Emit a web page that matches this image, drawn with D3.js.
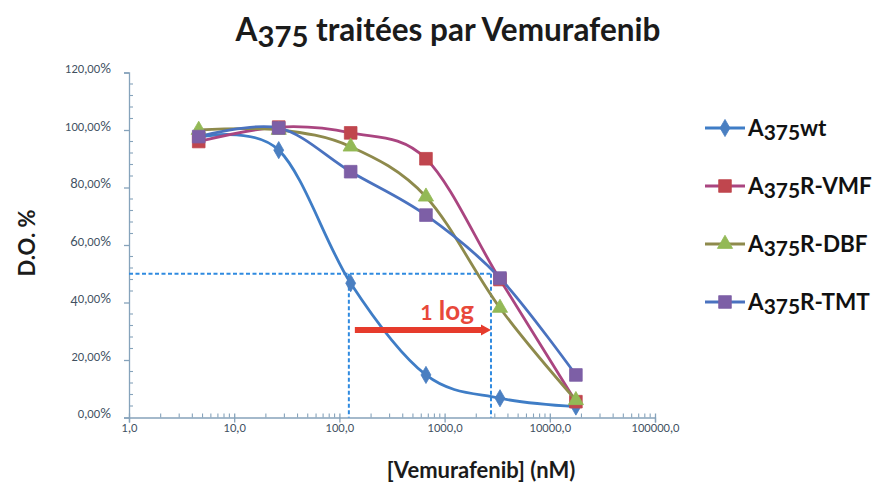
<!DOCTYPE html>
<html>
<head>
<meta charset="utf-8">
<script src="https://cdn.jsdelivr.net/npm/d3@7"></script>
<style>
  html, body { margin: 0; padding: 0; background: #fff; }
  svg { display: block; }
  text { font-family: Lato, "Open Sans", sans-serif; }
</style>
</head>
<body>
<svg id="chart" width="880" height="490"></svg>
<script>
// Vemurafenib concentrations (nM) used for the dose–response
const concentrations = [4.6, 26.5, 128, 665, 3360, 17700];

// Optical density (fraction of untreated control) per cell line
const seriesNames = ["A375wt", "A375R-VMF", "A375R-DBF", "A375R-TMT"];
const wtValues  = [0.975, 0.93, 0.467, 0.148, 0.067, 0.038];
const vmfValues = [0.96, 1.01, 0.99, 0.90, 0.48, 0.055];
const dbfValues = [1.00, 1.00, 0.942, 0.768, 0.381, 0.06];
const tmtValues = [0.977, 1.007, 0.855, 0.704, 0.485, 0.148];

// Axis ticks
const yTicks = [0, 0.2, 0.4, 0.6, 0.8, 1.0, 1.2];
const xTicks = [1, 10, 100, 1000, 10000, 100000];

// IC50 guides: half-effect level and the two crossing concentrations
const halfLevel = 0.5;
const ic50Sensitive = 123;
const ic50Resistant = 2760;

const series = [
  { name: seriesNames[0], values: wtValues,  line: "#3f7dc6", fill: "#4a7fc1", marker: "diamond" },
  { name: seriesNames[1], values: vmfValues, line: "#aa4580", fill: "#c0464e", marker: "square" },
  { name: seriesNames[2], values: dbfValues, line: "#8e8a4c", fill: "#93b956", marker: "triangle" },
  { name: seriesNames[3], values: tmtValues, line: "#4a72bf", fill: "#7d5fa6", marker: "square" }
];

const svg = d3.select("#chart");
const x = d3.scaleLog().domain([1, 100000]).range([129, 655]);
const y = d3.scaleLinear().domain([0, 1.2]).range([417.5, 72.5]);

const axisColor = "#86a3bb";
const labelColor = "#40505f";
const frFixed = v => v.toFixed(1).replace(".", ",");
const frPct = v => (v * 100).toFixed(2).replace(".", ",") + "%";

// Text-style figures: x-height digits, with 3 4 5 7 9 hanging below the baseline
function oldStyleText(sel, size) {
  sel.each(function () {
    const t = d3.select(this);
    const str = t.text();
    t.text(null);
    const runs = str.match(/\d|\D+/g) || [];
    let shift = 0;
    runs.forEach(run => {
      const ts = t.append("tspan");
      if (/\d/.test(run)) {
        let fs = size * 0.82, sh = 0;
        if ("34579".includes(run)) { fs = size * 0.93; sh = size * 0.19; }
        else if ("68".includes(run)) { fs = size * 0.96; }
        ts.attr("font-size", fs).attr("dy", sh - shift).text(run);
        shift = sh;
      } else {
        ts.attr("font-size", size).attr("dy", -shift).text(run);
        shift = 0;
      }
    });
  });
}

// Title
svg.append("text")
  .attr("x", 448).attr("y", 41)
  .attr("text-anchor", "middle")
  .attr("font-weight", 700)
  .attr("fill", "#1b1b1b")
  .text("A375 traitées par Vemurafenib")
  .call(oldStyleText, 31.5);

// Y axis: major ticks outside, minor ticks inside
const yAxis = d3.axisLeft(y).tickValues(yTicks).tickFormat(frPct).tickSize(5).tickPadding(13);
const gy = svg.append("g").attr("transform", `translate(${x(1)},0)`).call(yAxis);
gy.select(".domain").attr("stroke", axisColor).attr("stroke-width", 1.3);
gy.selectAll(".tick line").attr("stroke", axisColor).attr("stroke-width", 1.3);
gy.selectAll(".tick text").attr("fill", labelColor).attr("font-family", "Lato, sans-serif")
  .call(oldStyleText, 13.5);
const yMinor = d3.range(0, 1.2001, 0.04).filter(v => !yTicks.some(t => Math.abs(t - v) < 1e-6));
svg.append("g").selectAll("line").data(yMinor).join("line")
  .attr("x1", x(1)).attr("x2", x(1) + 4)
  .attr("y1", d => y(d)).attr("y2", d => y(d))
  .attr("stroke", axisColor).attr("stroke-width", 1.1);

// X axis (log): major ticks crossing, minor ticks inside
const xAxis = d3.axisBottom(x).tickValues(xTicks).tickFormat(frFixed).tickSize(5).tickPadding(9);
const gx = svg.append("g").attr("transform", `translate(0,${y(0)})`).call(xAxis);
gx.select(".domain").attr("stroke", axisColor).attr("stroke-width", 1.3);
gx.selectAll(".tick line").attr("stroke", axisColor).attr("stroke-width", 1.3).attr("y1", -4);
gx.selectAll(".tick text").attr("fill", labelColor).call(oldStyleText, 13.5);
const xMinor = [];
for (let d = 1; d < 100000; d *= 10) for (let k = 2; k <= 9; k++) xMinor.push(d * k);
svg.append("g").selectAll("line").data(xMinor).join("line")
  .attr("x1", d => x(d)).attr("x2", d => x(d))
  .attr("y1", y(0)).attr("y2", y(0) - 4)
  .attr("stroke", axisColor).attr("stroke-width", 1.1);

// Axis titles
svg.append("text")
  .attr("transform", `translate(35,243) rotate(-90)`)
  .attr("text-anchor", "middle")
  .attr("font-size", 22).attr("font-weight", 700).attr("fill", "#1b1b1b")
  .text("D.O. %");
svg.append("text")
  .attr("x", 481).attr("y", 478)
  .attr("text-anchor", "middle")
  .attr("font-size", 22).attr("font-weight", 700).attr("fill", "#1b1b1b")
  .text("[Vemurafenib] (nM)");

// IC50 guide lines
const guide = svg.append("g").attr("stroke", "#2f8ae0").attr("stroke-width", 2)
  .attr("stroke-dasharray", "4,2.5").attr("fill", "none");
guide.append("line").attr("x1", x(1)).attr("x2", x(ic50Resistant))
  .attr("y1", y(halfLevel)).attr("y2", y(halfLevel));
guide.append("line").attr("x1", x(ic50Sensitive)).attr("x2", x(ic50Sensitive))
  .attr("y1", y(halfLevel)).attr("y2", y(0));
guide.append("line").attr("x1", x(ic50Resistant)).attr("x2", x(ic50Resistant))
  .attr("y1", y(halfLevel)).attr("y2", y(0));

// Series curves and markers
const lineGen = d3.line()
  .x((d, i) => x(concentrations[i]))
  .y(d => y(d))
  .curve(d3.curveCardinal.tension(0));

const symbolFor = m => m === "diamond" ? d3.symbolDiamond : m === "triangle" ? d3.symbolTriangle : d3.symbolSquare;
const sizeFor = m => m === "diamond" ? 85 : m === "triangle" ? 100 : 160;

series.forEach(s => {
  svg.append("path")
    .attr("d", lineGen(s.values))
    .attr("fill", "none").attr("stroke", s.line).attr("stroke-width", 2.8)
    .attr("stroke-linejoin", "round");
  svg.append("g").selectAll("path").data(s.values).join("path")
    .attr("transform", (d, i) => `translate(${x(concentrations[i])},${y(d)})`)
    .attr("d", d3.symbol().type(symbolFor(s.marker)).size(sizeFor(s.marker)))
    .attr("fill", s.fill).attr("stroke", s.fill).attr("stroke-width", 0.8);
});

// "1 log" shift annotation
const arrowY = 330;
svg.append("line")
  .attr("x1", x(ic50Sensitive) + 6).attr("x2", x(ic50Resistant) - 8)
  .attr("y1", arrowY).attr("y2", arrowY)
  .attr("stroke", "#e63b2c").attr("stroke-width", 6);
svg.append("path")
  .attr("d", `M${x(ic50Resistant) - 10},${arrowY - 5.5} L${x(ic50Resistant)},${arrowY} L${x(ic50Resistant) - 10},${arrowY + 5.5} Z`)
  .attr("fill", "#e63b2c");
svg.append("text")
  .attr("x", 447).attr("y", 320)
  .attr("text-anchor", "middle")
  .attr("font-weight", 700).attr("fill", "#e8483a")
  .text("1 log")
  .call(oldStyleText, 26);

// Legend
const legend = svg.append("g");
series.forEach((s, i) => {
  const ly = 128 + i * 58;
  legend.append("line").attr("x1", 705).attr("x2", 745).attr("y1", ly).attr("y2", ly)
    .attr("stroke", s.line).attr("stroke-width", 2.8);
  legend.append("path")
    .attr("transform", `translate(725,${ly})`)
    .attr("d", d3.symbol().type(symbolFor(s.marker)).size(sizeFor(s.marker)))
    .attr("fill", s.fill).attr("stroke", s.fill).attr("stroke-width", 0.8);
  legend.append("text").attr("x", 748).attr("y", ly + 8)
    .attr("font-weight", 700).attr("fill", "#111")
    .text(s.name)
    .call(oldStyleText, 22.5);
});
</script>
</body>
</html>
